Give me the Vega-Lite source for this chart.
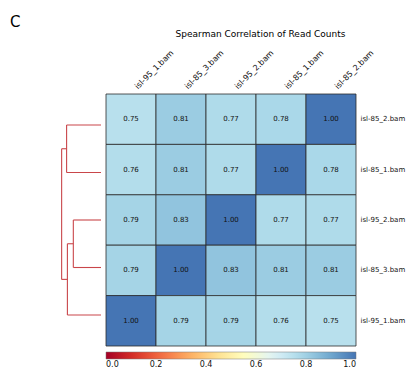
{
  "$schema": "https://vega.github.io/schema/vega-lite/v6.json",
  "width": 250,
  "height": 252,
  "autosize": {"type": "none"},
  "padding": {"left": 106, "top": 94, "right": 50, "bottom": 26},
  "title": {"text": "C", "anchor": "start", "frame": "group", "dx": -96, "dy": 18, "fontSize": 15, "fontWeight": "normal", "baseline": "alphabetic", "offset": 6, "color": "#000"},
  "datasets": {
    "corr": [
      {"r": "isl-85_2.bam", "c": "isl-95_1.bam", "v": 0.75},
      {"r": "isl-85_2.bam", "c": "isl-85_3.bam", "v": 0.81},
      {"r": "isl-85_2.bam", "c": "isl-95_2.bam", "v": 0.77},
      {"r": "isl-85_2.bam", "c": "isl-85_1.bam", "v": 0.78},
      {"r": "isl-85_2.bam", "c": "isl-85_2.bam", "v": 1.0},
      {"r": "isl-85_1.bam", "c": "isl-95_1.bam", "v": 0.76},
      {"r": "isl-85_1.bam", "c": "isl-85_3.bam", "v": 0.81},
      {"r": "isl-85_1.bam", "c": "isl-95_2.bam", "v": 0.77},
      {"r": "isl-85_1.bam", "c": "isl-85_1.bam", "v": 1.0},
      {"r": "isl-85_1.bam", "c": "isl-85_2.bam", "v": 0.78},
      {"r": "isl-95_2.bam", "c": "isl-95_1.bam", "v": 0.79},
      {"r": "isl-95_2.bam", "c": "isl-85_3.bam", "v": 0.83},
      {"r": "isl-95_2.bam", "c": "isl-95_2.bam", "v": 1.0},
      {"r": "isl-95_2.bam", "c": "isl-85_1.bam", "v": 0.77},
      {"r": "isl-95_2.bam", "c": "isl-85_2.bam", "v": 0.77},
      {"r": "isl-85_3.bam", "c": "isl-95_1.bam", "v": 0.79},
      {"r": "isl-85_3.bam", "c": "isl-85_3.bam", "v": 1.0},
      {"r": "isl-85_3.bam", "c": "isl-95_2.bam", "v": 0.83},
      {"r": "isl-85_3.bam", "c": "isl-85_1.bam", "v": 0.81},
      {"r": "isl-85_3.bam", "c": "isl-85_2.bam", "v": 0.81},
      {"r": "isl-95_1.bam", "c": "isl-95_1.bam", "v": 1.0},
      {"r": "isl-95_1.bam", "c": "isl-85_3.bam", "v": 0.79},
      {"r": "isl-95_1.bam", "c": "isl-95_2.bam", "v": 0.79},
      {"r": "isl-95_1.bam", "c": "isl-85_1.bam", "v": 0.76},
      {"r": "isl-95_1.bam", "c": "isl-85_2.bam", "v": 0.75}
    ],
    "dendro": [
      {"d1": 0, "d2": 0.215, "p1": 5, "p2": 5},
      {"d1": 0.215, "d2": 0.215, "p1": 5, "p2": 15},
      {"d1": 0.215, "d2": 0, "p1": 15, "p2": 15},
      {"d1": 0, "d2": 0.173, "p1": 25, "p2": 25},
      {"d1": 0.173, "d2": 0.173, "p1": 25, "p2": 35},
      {"d1": 0.173, "d2": 0, "p1": 35, "p2": 35},
      {"d1": 0.173, "d2": 0.21, "p1": 30, "p2": 30},
      {"d1": 0.21, "d2": 0.21, "p1": 30, "p2": 45},
      {"d1": 0.21, "d2": 0, "p1": 45, "p2": 45},
      {"d1": 0.215, "d2": 0.246, "p1": 10, "p2": 10},
      {"d1": 0.246, "d2": 0.246, "p1": 10, "p2": 37.5},
      {"d1": 0.246, "d2": 0.21, "p1": 37.5, "p2": 37.5}
    ]
  },
  "layer": [
    {
      "data": {"name": "corr"},
      "encoding": {
        "x": {
          "field": "c", "type": "nominal",
          "sort": ["isl-95_1.bam", "isl-85_3.bam", "isl-95_2.bam", "isl-85_1.bam", "isl-85_2.bam"],
          "scale": {"paddingInner": 0, "paddingOuter": 0},
          "axis": {
            "orient": "top", "labelAngle": -45, "labelAlign": "left", "labelBaseline": "alphabetic", "ticks": false, "domain": false,
            "labelFontSize": 8, "labelColor": "#111", "labelPadding": 5, "labelOffset": 7,
            "title": "Spearman Correlation of Read Counts", "titleFontSize": 9, "titleFontWeight": "normal",
            "titleColor": "#000", "titleX": 154, "titleY": -57.5, "titleAlign": "center", "titleBaseline": "alphabetic"
          }
        },
        "y": {
          "field": "r", "type": "nominal",
          "sort": ["isl-85_2.bam", "isl-85_1.bam", "isl-95_2.bam", "isl-85_3.bam", "isl-95_1.bam"],
          "scale": {"paddingInner": 0, "paddingOuter": 0},
          "axis": {"orient": "right", "ticks": false, "domain": false, "labelFontSize": 7, "labelColor": "#111", "labelPadding": 4, "title": null}
        }
      },
      "layer": [
        {
          "mark": {"type": "rect", "stroke": "#2b2b2b", "strokeWidth": 0.8},
          "encoding": {
            "color": {
              "field": "v", "type": "quantitative",
              "scale": {"domain": [0, 1], "interpolate": "rgb",
                "range": ["#a50026", "#d73027", "#f46d43", "#fdae61", "#fee090", "#ffffbf", "#e0f3f8", "#abd9e9", "#74add1", "#4575b4"]},
              "legend": {
                "orient": "bottom", "direction": "horizontal", "gradientLength": 250, "gradientThickness": 7,
                "title": null, "values": [0, 0.2, 0.4, 0.6, 0.8, 1.0], "format": ".1f", "labelFontSize": 8,
                "labelAlign": "center", "labelColor": "#111", "offset": 6, "gradientStrokeColor": "#777", "gradientStrokeWidth": 0.5
              }
            }
          }
        },
        {
          "mark": {"type": "text", "fontSize": 7, "color": "#111"},
          "encoding": {"text": {"field": "v", "type": "quantitative", "format": ".2f"}}
        }
      ]
    },
    {
      "data": {"name": "dendro"},
      "mark": {"type": "rule", "color": "#c9464a", "strokeWidth": 1.1},
      "encoding": {
        "x": {"field": "d1", "type": "quantitative", "scale": {"domain": [-1.59375, -0.03125], "reverse": true, "zero": false, "nice": false}, "axis": null},
        "x2": {"field": "d2"},
        "y": {"field": "p1", "type": "quantitative", "scale": {"domain": [-1.526, 51.526], "reverse": true, "zero": false, "nice": false}, "axis": null},
        "y2": {"field": "p2"}
      }
    }
  ],
  "resolve": {"scale": {"x": "independent", "y": "independent"}},
  "config": {
    "font": "DejaVu Sans",
    "view": {"stroke": null},
    "background": "white"
  }
}
